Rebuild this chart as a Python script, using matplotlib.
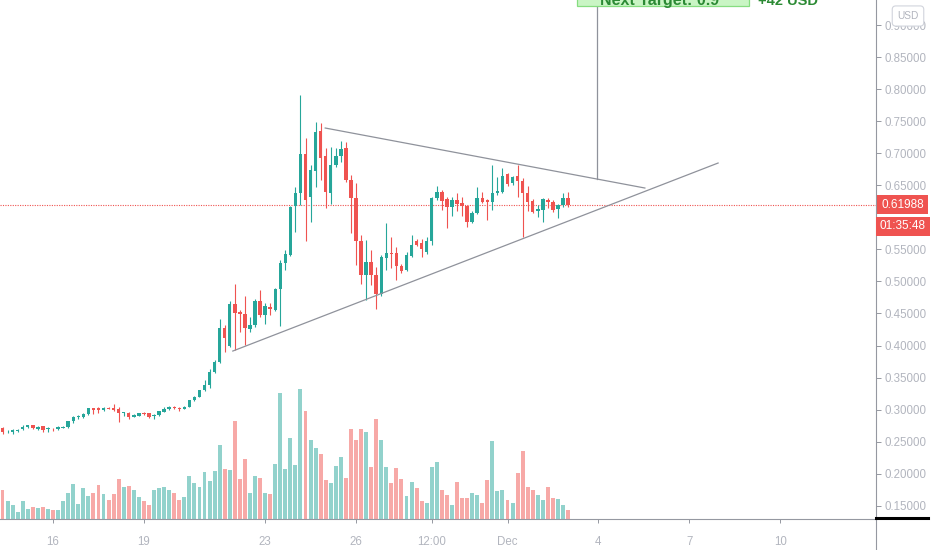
import matplotlib
matplotlib.use("Agg")
import matplotlib.pyplot as plt
import matplotlib.transforms as mtransforms
from matplotlib.lines import Line2D
from matplotlib.patches import Rectangle
import numpy as np

plt.rcParams['font.family'] = ['Liberation Sans', 'DejaVu Sans']

# 4h candles, index 0 = Nov 14 08:00
opens = [0.2718, 0.2646, 0.2655, 0.2666, 0.2698, 0.2729, 0.2760, 0.2702, 0.2740, 0.2693,
         0.2702, 0.2698, 0.2718, 0.2724, 0.2827, 0.2885, 0.2885, 0.2927, 0.3021, 0.3021,
         0.2994, 0.3030, 0.3030, 0.3010, 0.2943, 0.2952, 0.2889, 0.2905, 0.2952, 0.2943,
         0.2900, 0.2916, 0.2967, 0.3005, 0.3046, 0.3030, 0.3014, 0.3046, 0.3150, 0.3201,
         0.3306, 0.3389, 0.3587, 0.3743, 0.4278, 0.3992, 0.4643, 0.4523, 0.4496, 0.4258,
         0.4316, 0.4699, 0.4476, 0.4596, 0.4554, 0.4877, 0.5283, 0.5412, 0.6181, 0.6375,
         0.6983, 0.6317, 0.6722, 0.7346, 0.6956, 0.6387, 0.6816, 0.6961, 0.7077, 0.6582,
         0.6297, 0.5630, 0.5100, 0.5307, 0.5100, 0.4804, 0.5370, 0.5443, 0.5438, 0.5240,
         0.5173, 0.5396, 0.5635, 0.5595, 0.5463, 0.5635, 0.6297, 0.6390, 0.6281, 0.6166,
         0.6270, 0.6228, 0.6181, 0.5922, 0.6063, 0.6306, 0.6270, 0.6244, 0.6375, 0.6400,
         0.6676, 0.6531, 0.6644, 0.6566, 0.6384, 0.6259, 0.6103, 0.6114, 0.6270, 0.6244,
         0.6125, 0.6192, 0.6306]
highs = [0.2733, 0.2682, 0.2698, 0.2698, 0.2765, 0.2768, 0.2768, 0.2744, 0.2744, 0.2729,
         0.2713, 0.2737, 0.2744, 0.2830, 0.2900, 0.2916, 0.2947, 0.3025, 0.3025, 0.3046,
         0.3041, 0.3041, 0.3088, 0.3046, 0.2967, 0.2963, 0.2932, 0.2955, 0.2963, 0.2947,
         0.2932, 0.2986, 0.3046, 0.3056, 0.3056, 0.3041, 0.3049, 0.3150, 0.3212, 0.3314,
         0.3462, 0.3638, 0.3774, 0.4409, 0.4315, 0.4699, 0.4960, 0.4554, 0.4777, 0.4440,
         0.4726, 0.4866, 0.4668, 0.4668, 0.4893, 0.5334, 0.5490, 0.6176, 0.6478, 0.7908,
         0.7233, 0.6816, 0.7482, 0.7476, 0.7077, 0.7102, 0.7077, 0.7190, 0.7170, 0.6660,
         0.6535, 0.5724, 0.5646, 0.5490, 0.5229, 0.5412, 0.5916, 0.5693, 0.5541, 0.5272,
         0.5459, 0.5724, 0.5662, 0.5657, 0.5688, 0.6321, 0.6488, 0.6426, 0.6317, 0.6321,
         0.6375, 0.6312, 0.6192, 0.6098, 0.6468, 0.6390, 0.6286, 0.6816, 0.6634, 0.6765,
         0.6696, 0.6644, 0.6816, 0.6613, 0.6488, 0.6286, 0.6192, 0.6301, 0.6306, 0.6270,
         0.6208, 0.6375, 0.6400]
lows = [0.2615, 0.2630, 0.2620, 0.2651, 0.2682, 0.2713, 0.2705, 0.2690, 0.2655, 0.2655,
        0.2674, 0.2690, 0.2713, 0.2718, 0.2787, 0.2849, 0.2877, 0.2924, 0.2932, 0.2952,
        0.2986, 0.3010, 0.2974, 0.2812, 0.2905, 0.2849, 0.2885, 0.2900, 0.2924, 0.2869,
        0.2858, 0.2908, 0.2963, 0.3002, 0.3017, 0.2974, 0.3010, 0.3041, 0.3142, 0.3197,
        0.3298, 0.3333, 0.3571, 0.3727, 0.3903, 0.3977, 0.3930, 0.4216, 0.4008, 0.4216,
        0.4294, 0.4450, 0.4336, 0.4476, 0.4538, 0.4304, 0.5178, 0.5396, 0.5776, 0.6192,
        0.5630, 0.5931, 0.6478, 0.6582, 0.6141, 0.6208, 0.6785, 0.6863, 0.6555, 0.5751,
        0.5256, 0.4960, 0.4715, 0.4944, 0.4570, 0.4772, 0.5178, 0.5209, 0.5022, 0.5127,
        0.5162, 0.5381, 0.5552, 0.5376, 0.5428, 0.5568, 0.6270, 0.6114, 0.5829, 0.6025,
        0.6103, 0.6025, 0.5844, 0.5911, 0.6052, 0.6219, 0.5958, 0.6114, 0.6348, 0.6387,
        0.6488, 0.6504, 0.6321, 0.5698, 0.6098, 0.6063, 0.6010, 0.5931, 0.6141, 0.6078,
        0.5985, 0.6156, 0.6166]
closes = [0.2655, 0.2655, 0.2682, 0.2687, 0.2733, 0.2755, 0.2718, 0.2733, 0.2682, 0.2709,
          0.2693, 0.2724, 0.2733, 0.2822, 0.2885, 0.2900, 0.2936, 0.3021, 0.2989, 0.2994,
          0.3030, 0.3014, 0.2994, 0.2952, 0.2958, 0.2880, 0.2911, 0.2943, 0.2932, 0.2880,
          0.2921, 0.2978, 0.3010, 0.3046, 0.3025, 0.3005, 0.3041, 0.3145, 0.3201, 0.3306,
          0.3389, 0.3582, 0.3747, 0.4278, 0.4122, 0.4643, 0.4512, 0.4492, 0.4278, 0.4320,
          0.4699, 0.4471, 0.4616, 0.4570, 0.4877, 0.5283, 0.5428, 0.6166, 0.6375, 0.6983,
          0.6270, 0.6738, 0.7335, 0.6933, 0.6395, 0.6816, 0.6961, 0.7061, 0.6582, 0.6297,
          0.5630, 0.5100, 0.5307, 0.5100, 0.4804, 0.5385, 0.5438, 0.5423, 0.5245, 0.5167,
          0.5412, 0.5568, 0.5568, 0.5506, 0.5635, 0.6297, 0.6390, 0.6259, 0.6166, 0.6270,
          0.6208, 0.6176, 0.5922, 0.6063, 0.6306, 0.6244, 0.6244, 0.6384, 0.6415, 0.6644,
          0.6520, 0.6624, 0.6571, 0.6384, 0.6244, 0.6088, 0.6130, 0.6281, 0.6244, 0.6114,
          0.6192, 0.6306, 0.61988]
volumes = [29, 18, 14, 7, 18, 10, 12, 11, 12, 10,
           9, 9, 18, 26, 35, 15, 31, 23, 26, 34,
           25, 19, 25, 40, 32, 33, 29, 22, 18, 14,
           29, 31, 32, 29, 26, 19, 22, 43, 36, 32,
           47, 38, 48, 74, 50, 49, 98, 40, 60, 26,
           43, 41, 26, 25, 55, 126, 50, 81, 54, 130,
           108, 79, 71, 65, 39, 36, 53, 62, 41, 90,
           79, 90, 87, 52, 100, 79, 52, 36, 51, 40,
           23, 37, 31, 18, 16, 52, 57, 29, 24, 14,
           37, 21, 21, 26, 24, 16, 39, 78, 28, 29,
           19, 16, 46, 68, 32, 29, 24, 19, 32, 21,
           20, 14, 9]

time_ticks = [10, 28, 52, 70, 85, 100, 118, 136, 154]
time_labels = ['16', '19', '23', '26', '12:00', 'Dec', '4', '7', '10']
price_ticks = [0.15, 0.20, 0.25, 0.30, 0.35, 0.40, 0.45, 0.50, 0.55, 0.60,
               0.65, 0.70, 0.75, 0.80, 0.85, 0.90]
hidden_tick = 0.60  # covered by the last-price badges

# drawings (bar index, price)
upper_line = ([63.9, 127.2], [0.7393, 0.6457])
lower_line = ([45.6, 141.7], [0.3914, 0.6847])
target_x = 117.7
target_low = 0.6598
last_price = 0.61988
countdown = '01:35:48'

GREEN = '#26a69a'
RED = '#ef5350'
GREEN_VOL = '#92d2cc'
RED_VOL = '#f7a9a7'
AXIS = '#9598a1'
TXT = '#b2b5be'

W, H = 932, 550
fig = plt.figure(figsize=(W / 100, H / 100), dpi=100)
fig.patch.set_facecolor('white')
ax_w, ax_h = 876, 519
ax = fig.add_axes([0, (H - ax_h) / H, ax_w / W, ax_h / H])
axv = ax.twinx()
ax.set_zorder(axv.get_zorder() + 1)
ax.patch.set_visible(False)

o = np.array(opens); h = np.array(highs); l = np.array(lows); c = np.array(closes)
idx = np.arange(len(o))
up = c >= o

# volume
axv.bar(idx, volumes, width=0.78, color=[GREEN_VOL if u else RED_VOL for u in up], linewidth=0)
axv.set_ylim(0, max(volumes) * ax_h / 130)
axv.set_yticks([])
for s in axv.spines.values():
    s.set_visible(False)

# candles
cols = [GREEN if u else RED for u in up]
ax.vlines(idx, l, h, colors=cols, linewidth=0.8, zorder=3)
body_bottom = np.minimum(o, c)
body_h = np.maximum(np.abs(c - o), 0.0012)
ax.bar(idx, body_h, bottom=body_bottom, width=0.68, color=cols, linewidth=0, zorder=4)

# trend drawings
ax.plot(upper_line[0], upper_line[1], color='#8f929b', lw=0.9, zorder=5)
ax.plot(lower_line[0], lower_line[1], color='#8f929b', lw=0.9, zorder=5)
ax.plot([target_x, target_x], [target_low, 1.0], color='#8f929b', lw=0.9, zorder=5)

# last price line
ax.axhline(last_price, color=RED, lw=0.8, ls=(0, (1, 1.2)), zorder=2)

ax.set_xlim(-0.5, 172.97)
ax.set_ylim(0.1294, 0.939)

ax.yaxis.tick_right()
ax.set_yticks(price_ticks)
ax.set_yticklabels(['' if abs(p - hidden_tick) < 1e-9 else '%.5f' % p for p in price_ticks])
ax.set_xticks(time_ticks)
ax.set_xticklabels(time_labels)
ax.tick_params(axis='y', colors=AXIS, labelcolor=TXT, labelsize=8.3, length=3.5, width=0.7, pad=2.5)
ax.tick_params(axis='x', colors=AXIS, labelcolor=TXT, labelsize=8.3, length=3, width=0.7, pad=9)
for name in ['top', 'left']:
    ax.spines[name].set_visible(False)
ax.spines['right'].set_color(AXIS)
ax.spines['bottom'].set_color(AXIS)
ax.spines['right'].set_linewidth(0.8)
ax.spines['bottom'].set_linewidth(0.8)

# right axis extends into time-scale strip
fig.add_artist(Line2D([ax_w / W, ax_w / W], [0, (H - ax_h) / H], transform=fig.transFigure,
                      color=AXIS, lw=0.8))
fig.add_artist(Line2D([ax_w / W, 928 / W], [(H - 518) / H] * 2, transform=fig.transFigure,
                      color='black', lw=2.2))

# price labels on the scale
trans = mtransforms.blended_transform_factory(ax.transAxes, ax.transData)
ax.text(1.0 + 5 / ax_w, last_price, '%.5f' % last_price, transform=trans, ha='left', va='center',
        color='white', fontsize=8.5, zorder=10, clip_on=False,
        bbox=dict(boxstyle='square,pad=0.33', fc=RED, ec='none'))
ax.annotate(countdown, xy=(1.0 + 4 / ax_w, last_price), xycoords=trans, xytext=(0, -15.5),
            textcoords='offset points', ha='left', va='center', color='white', fontsize=8.5,
            annotation_clip=False, zorder=10,
            bbox=dict(boxstyle='square,pad=0.3', fc=RED, ec='none'))

# currency badge
fig.text(908 / W, 1 - 16 / H, 'USD', ha='center', va='center', fontsize=7.3, color=TXT,
         bbox=dict(boxstyle='round,pad=0.5,rounding_size=0.35', fc='white', ec='#d1d4dc', lw=0.8))

# target label cut at top
fig.add_artist(Rectangle((577 / W, 1 - 5.7 / H), 172 / W, 20 / H, transform=fig.transFigure,
                         fc='#c9f5c4', ec='#86dd80', lw=0.9, zorder=20))
fig.text(600 / W, 1 - 1 / H, 'Next Target: 0.9', ha='left', va='center', fontsize=11.5,
         fontweight='bold', color='#2b8a34', zorder=21)
fig.text(758 / W, 1 - 1 / H, '+42 USD', ha='left', va='center', fontsize=10.5,
         fontweight='bold', color='#2b8a34', zorder=21)

fig.savefig('out.png', dpi=100, facecolor='white')
